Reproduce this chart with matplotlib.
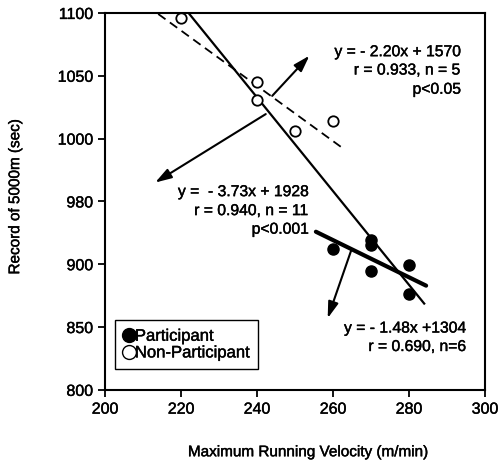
import matplotlib.pyplot as plt
import matplotlib.patheffects as pe
from matplotlib.lines import Line2D
from matplotlib.text import Text

plt.rcParams['font.family'] = ['Liberation Sans', 'DejaVu Sans']

# participants (filled) and non-participants (open)
part_x = [260, 270, 270, 270, 280, 280]
part_y = [912, 919, 915, 895, 899, 876]
non_x = [220, 240, 240, 250, 260]
non_y = [1096, 1045, 1031, 1006, 1014]

# regression lines: slope, intercept, x-range
all_fit = (-3.73, 1928, 221.5, 284)
non_fit = (-2.20, 1570, 214, 262.5)
part_fit = (-1.48, 1304, 255.5, 284.5)

xticks = [200, 220, 240, 260, 280, 300]
yticks = [800, 850, 900, 950, 1000, 1050, 1100]
ytick_labels = ['800', '850', '900', '980', '1000', '1050', '1100']

fig = plt.figure(figsize=(5, 4.63), dpi=100)
ax = fig.add_axes([0.21, 0.158, 0.76, 0.814])

def fit_line(fit):
    m, b, x0, x1 = fit
    return [x0, x1], [m * x0 + b, m * x1 + b]

xs, ys = fit_line(all_fit)
ax.plot(xs, ys, color='black', lw=1.6)
xs, ys = fit_line(non_fit)
ax.plot(xs, ys, color='black', lw=1.3, ls=(0, (5, 3)))
xs, ys = fit_line(part_fit)
ax.plot(xs, ys, color='black', lw=3, solid_capstyle='round')

ax.plot(part_x, part_y, 'o', color='black', ms=8, zorder=5)
ax.plot(non_x, non_y, 'o', mfc='white', mec='black', mew=1.3, ms=7.5, zorder=5)

arrow = dict(arrowstyle='-|>,head_length=0.7,head_width=0.22', color='black',
             lw=1.5, mutation_scale=14, shrinkA=0, shrinkB=0)
ax.annotate('', xy=(253.8, 1066), xytext=(244, 1034), arrowprops=arrow)
ax.annotate('', xy=(213.2, 965), xytext=(242.3, 1019.5), arrowprops=arrow)
ax.annotate('', xy=(258.6, 857), xytext=(264.9, 912), arrowprops=arrow)

fs = 11.3
ax.text(293.7, 1069.2, 'y = - 2.20x + 1570', ha='right', va='center', fontsize=fs)
ax.text(293.7, 1054.6, 'r = 0.933, n = 5', ha='right', va='center', fontsize=fs)
ax.text(293.7, 1039.3, 'p<0.05', ha='right', va='center', fontsize=fs)

ax.text(253.7, 957.8, 'y =  - 3.73x + 1928', ha='right', va='center', fontsize=fs)
ax.text(253.7, 942.7, 'r = 0.940, n = 11', ha='right', va='center', fontsize=fs)
ax.text(253.7, 927.9, 'p<0.001', ha='right', va='center', fontsize=fs)

ax.text(295.2, 849.2, 'y = - 1.48x +1304', ha='right', va='center', fontsize=fs)
ax.text(295.2, 834.5, 'r = 0.690, n=6', ha='right', va='center', fontsize=fs)

handles = [Line2D([], [], ls='none', marker='o', color='black', ms=10),
           Line2D([], [], ls='none', marker='o', mfc='white', mec='black', mew=1, ms=10)]
leg = ax.legend(handles, ['Participant', 'Non-Participant'], loc='lower left',
                bbox_to_anchor=(0.026, 0.056), borderaxespad=0, fontsize=12,
                handlelength=0.7, handletextpad=0.0, borderpad=0.5,
                labelspacing=0.1, fancybox=False, framealpha=1)
leg.get_frame().set_edgecolor('black')
leg.get_frame().set_linewidth(1)

ax.set_xlim(200, 300)
ax.set_ylim(800, 1100)
ax.set_xticks(xticks)
ax.set_yticks(yticks)
ax.set_yticklabels(ytick_labels)
ax.tick_params(direction='out', length=5, width=1.3, labelsize=11.5)
for s in ax.spines.values():
    s.set_linewidth(1.5)

ax.set_xlabel('Maximum Running Velocity (m/min)', fontsize=11)
ax.xaxis.set_label_coords(0.534, -0.147)
ax.set_ylabel('Record of 5000m (sec)', fontsize=11)
ax.yaxis.set_label_coords(-0.218, 0.512)

# scanned print looks a bit heavier
for t in fig.findobj(Text):
    t.set_path_effects([pe.withStroke(linewidth=0.3, foreground='black')])

fig.savefig('out.png', dpi=100)
